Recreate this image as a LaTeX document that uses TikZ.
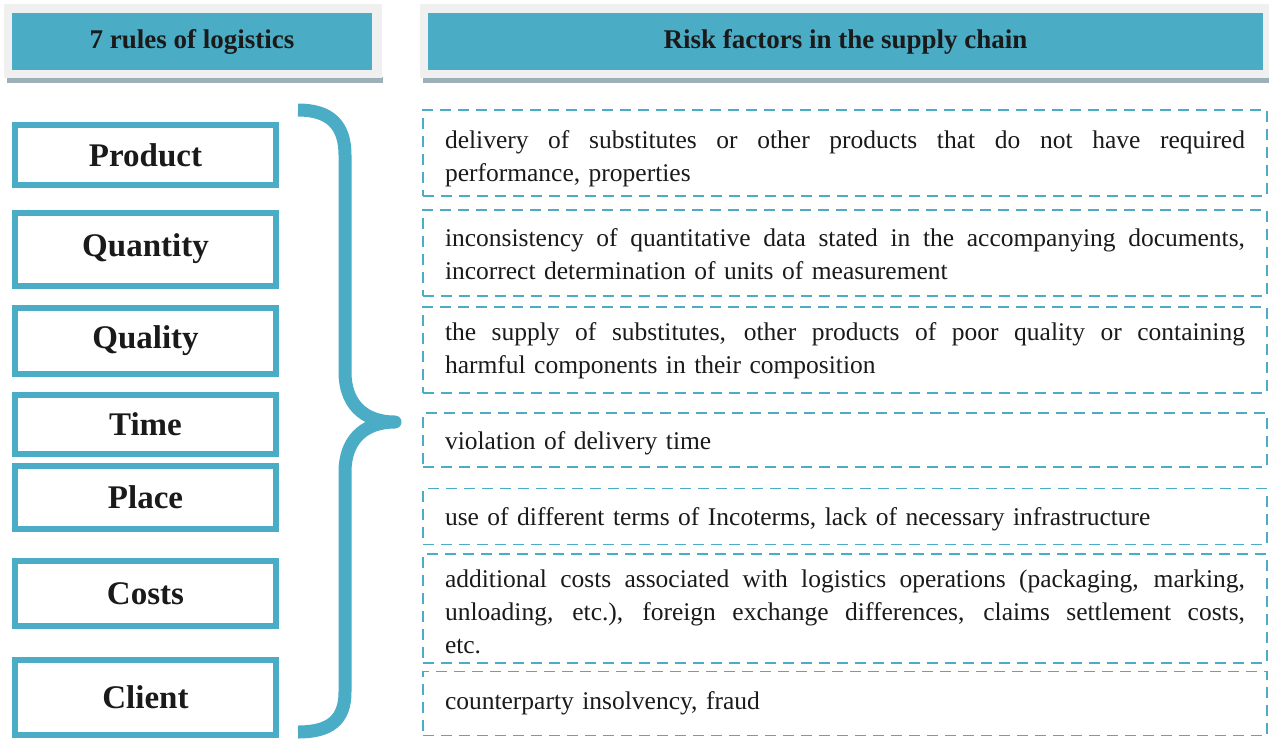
\documentclass[tikz,border=0pt]{standalone}
\usepackage{fontspec}
\setmainfont{Liberation Serif}
\definecolor{lb}{HTML}{4BACC6}
\definecolor{frm}{HTML}{F0F0F0}
\definecolor{shd}{HTML}{9DAFB7}
\definecolor{ink}{HTML}{1A1A1A}
\newcommand{\jl}[1]{{\spaceskip=0pt\xspaceskip=0pt\makebox[800pt][s]{#1}}}
\begin{document}
\begin{tikzpicture}[x=1pt,y=-1pt,
  rulebox/.style={draw=lb,line width=6pt,fill=white,minimum width=261pt,inner sep=0pt,
    font=\fontsize{33}{36}\selectfont\bfseries,text=ink},
  riskbox/.style={draw=lb,line width=1.8pt,dash pattern=on 11pt off 7pt,minimum width=844pt,inner sep=0pt},
  risktext/.style={text width=800pt,inner sep=0pt,align=left,
    font=\fontsize{25.5}{33}\selectfont,text=ink},
  hdr/.style={fill=lb,inner sep=0pt,minimum height=57pt,text=ink,
    font=\fontsize{27}{30}\selectfont\bfseries},
  frame/.style={fill=frm},
  shadow/.style={fill=shd},
  brace/.style={draw=lb,line width=13pt,line join=round}]
\useasboundingbox (0,0) rectangle (1269,740);
% header frames
\fill[shadow] (7,77) rectangle (383,83);
\fill[frame] (4,4) rectangle (382,78);
\fill[shadow] (423,77) rectangle (1269,83);
\fill[frame] (420,4) rectangle (1269,78);
\node[hdr,minimum width=360pt] (h1) at (192,41.5) {7 rules of logistics};
\node[hdr,minimum width=835pt] (h2) at (845.5,41.5) {Risk factors in the supply chain};
% left rule boxes
\node[rulebox,minimum height=60pt] (r1) at (145.5,155) {Product};
\node[rulebox,minimum height=73pt] (r2) at (145.5,249) {Quantity};
\node[rulebox,minimum height=66pt] (r3) at (145.5,341) {Quality};
\node[rulebox,minimum height=59pt] (r4) at (145.5,424.5) {Time};
\node[rulebox,minimum height=63pt] (r5) at (145.5,497.5) {Place};
\node[rulebox,minimum height=65pt] (r6) at (145.5,593.5) {Costs};
\node[rulebox,minimum height=75pt] (r7) at (145.5,697.5) {Client};
% brace
\coordinate (bt) at (298,110);
\coordinate (btip) at (395,422);
\coordinate (bb) at (298,732);
\draw[brace] (bt) .. controls (330,110) and (345,125) .. (345,155) -- (345,372)
  .. controls (345,402) and (362,422) .. (btip)
  .. controls (362,422) and (345,442) .. (345,472) -- (345,692)
  .. controls (345,720) and (330,732) .. (bb);
% risk boxes
\node[riskbox,minimum height=86pt] (k1) at (845,153) {};
\node[riskbox,minimum height=86pt] (k2) at (845,253) {};
\node[riskbox,minimum height=86pt] (k3) at (845,350) {};
\node[riskbox,minimum height=54pt] (k4) at (845,440) {};
\node[riskbox,minimum height=56pt] (k5) at (845,516.5) {};
\node[riskbox,minimum height=109pt] (k6) at (845,608.5) {};
\node[riskbox,minimum height=64pt] (k7) at (845,703.5) {};
\node[risktext] (t1) at ([yshift=-6pt]k1.center) {\jl{delivery of substitutes or other products that do not have required}\\performance, properties};
\node[risktext] (t2) at ([yshift=-1pt]k2.center) {\jl{inconsistency of quantitative data stated in the accompanying documents,}\\incorrect determination of units of measurement};
\node[risktext] (t3) at ([yshift=-1pt]k3.center) {\jl{the supply of substitutes, other products of poor quality or containing}\\harmful components in their composition};
\node[risktext] (t4) at ([yshift=-3pt]k4.center) {violation of delivery time};
\node[risktext] (t5) at ([yshift=-3pt]k5.center) {use of different terms of Incoterms, lack of necessary infrastructure};
\node[risktext] (t6) at ([yshift=-3pt]k6.center) {\jl{additional costs associated with logistics operations (packaging, marking,}\\\jl{unloading, etc.), foreign exchange differences, claims settlement costs,}\\etc.};
\node[risktext] (t7) at (k7.center) {counterparty insolvency, fraud};
\end{tikzpicture}
\end{document}
